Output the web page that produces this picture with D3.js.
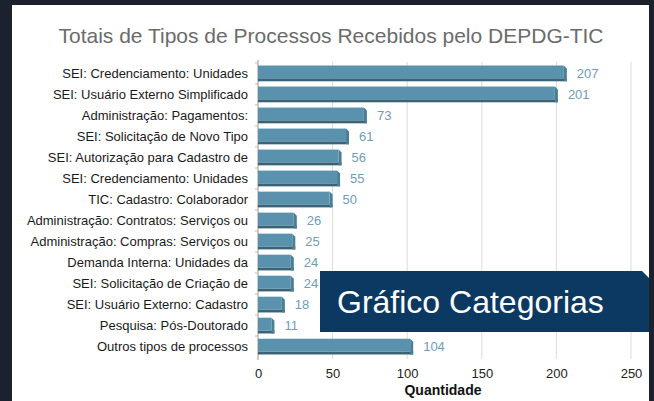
<!DOCTYPE html>
<html>
<head>
<meta charset="utf-8">
<script src="https://cdn.jsdelivr.net/npm/d3@7"></script>
<style>
  body { margin: 0; background: #1b212d; }
  svg { display: block; }
</style>
</head>
<body>
<svg></svg>
<script>
// dados do gráfico
const categorias = [
    "SEI: Credenciamento: Unidades",
    "SEI: Usuário Externo Simplificado",
    "Administração: Pagamentos:",
    "SEI: Solicitação de Novo Tipo",
    "SEI: Autorização para Cadastro de",
    "SEI: Credenciamento: Unidades",
    "TIC: Cadastro: Colaborador",
    "Administração: Contratos: Serviços ou",
    "Administração: Compras: Serviços ou",
    "Demanda Interna: Unidades da",
    "SEI: Solicitação de Criação de",
    "SEI: Usuário Externo: Cadastro",
    "Pesquisa: Pós-Doutorado",
    "Outros tipos de processos"
];
const quantidades = [207, 201, 73, 61, 56, 55, 50, 26, 25, 24, 24, 18, 11, 104];
const ticksX = [0, 50, 100, 150, 200, 250];

const width = 654;
const height = 401;
const fonte = "'Liberation Sans', Arial, sans-serif";

let svg = d3.select("svg")
    .attr("width", width)
    .attr("height", height);

// painel branco
svg.append("rect")
    .attr("x", 12).attr("y", 5)
    .attr("width", 637).attr("height", 400)
    .attr("fill", "#ffffff");

// título
svg.append("text")
    .attr("x", 331).attr("y", 43)
    .attr("text-anchor", "middle")
    .style("font-family", fonte)
    .style("font-size", "21px")
    .style("fill", "#6b6b6b")
    .text("Totais de Tipos de Processos Recebidos pelo DEPDG-TIC");

const dados = categorias.map((c, i) => ({ id: i, cat: c, v: quantidades[i] }));

const x = d3.scaleLinear().domain([0, 250]).range([258, 631]);
const y = d3.scaleBand()
    .domain(dados.map(d => d.id))
    .range([63, 357])
    .paddingInner(0.25)
    .paddingOuter(0.12);

// grade vertical
svg.append("g")
    .selectAll("line")
    .data(ticksX.slice(1))
    .join("line")
    .attr("x1", d => x(d)).attr("x2", d => x(d))
    .attr("y1", 62).attr("y2", 359)
    .attr("stroke", "#dcdcdc")
    .attr("stroke-width", 1);

// eixo x
let eixoX = svg.append("g")
    .attr("transform", "translate(0, 362)")
    .call(d3.axisBottom(x).tickValues(ticksX).tickSize(0).tickPadding(7));
eixoX.select(".domain").remove();
eixoX.selectAll("text")
    .style("font-family", fonte)
    .style("font-size", "13px")
    .style("fill", "#222");

svg.append("text")
    .attr("x", 443).attr("y", 395)
    .attr("text-anchor", "middle")
    .style("font-family", fonte)
    .style("font-size", "14px")
    .style("font-weight", "bold")
    .style("fill", "#111")
    .text("Quantidade");

// eixo y (rótulos das categorias)
let eixoY = svg.append("g")
    .attr("transform", "translate(258, 0)")
    .call(d3.axisLeft(y).tickSize(0).tickPadding(10).tickFormat(i => categorias[i]));
eixoY.select(".domain")
    .attr("d", "M0,60V360")
    .attr("stroke", "#999");
eixoY.selectAll("text")
    .style("font-family", fonte)
    .style("font-size", "13px")
    .style("fill", "#1a1a1a");

// pequenos traços entre as categorias
svg.append("g")
    .selectAll("line")
    .data(dados)
    .join("line")
    .attr("x1", 255).attr("x2", 258)
    .attr("y1", d => y(d.id) - y.step() * y.paddingInner() / 2)
    .attr("y2", d => y(d.id) - y.step() * y.paddingInner() / 2)
    .attr("stroke", "#bbb");

// barras com efeito 3D
const prof = 3;
let barras = svg.append("g")
    .selectAll("g")
    .data(dados)
    .join("g");

// face inferior (sombra)
barras.append("rect")
    .attr("x", x(0))
    .attr("y", d => y(d.id) + y.bandwidth() - prof)
    .attr("width", d => x(d.v) - x(0))
    .attr("height", prof)
    .attr("fill", "#3b6377");

// lateral direita
barras.append("path")
    .attr("d", d => {
        const xe = x(d.v), y0 = y(d.id), h = y.bandwidth();
        return `M${xe - prof},${y0} L${xe},${y0 + prof} L${xe},${y0 + h} L${xe - prof},${y0 + h} Z`;
    })
    .attr("fill", "#4a7d96");

// face frontal
barras.append("rect")
    .attr("x", x(0))
    .attr("y", d => y(d.id))
    .attr("width", d => x(d.v) - x(0) - prof)
    .attr("height", y.bandwidth() - prof)
    .attr("fill", "#5a92ae");

// rótulos de valor
svg.append("g")
    .selectAll("text")
    .data(dados)
    .join("text")
    .attr("x", d => x(d.v) + 10)
    .attr("y", d => y(d.id) + y.bandwidth() / 2)
    .attr("dy", "0.35em")
    .style("font-family", fonte)
    .style("font-size", "13px")
    .style("fill", "#6f9dba")
    .text(d => d.v);

// faixa "Gráfico Categorias"
svg.append("path")
    .attr("d", "M320,271 L642,271 L649,278 L649,332 L320,332 Z")
    .attr("fill", "#0b3962");
svg.append("text")
    .attr("x", 337).attr("y", 313)
    .style("font-family", fonte)
    .style("font-size", "32px")
    .style("fill", "#ffffff")
    .text("Gráfico Categorias");
</script>
</body>
</html>
